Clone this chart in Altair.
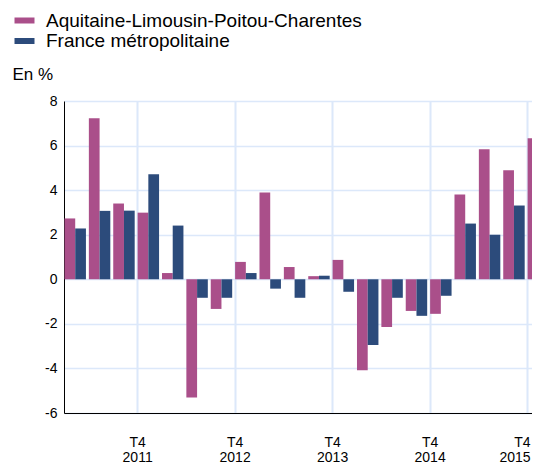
import altair as alt
import pandas as pd

series_names = ["Aquitaine-Limousin-Poitou-Charentes", "France métropolitaine"]
quarter_index = list(range(20))  # T1 2011 ... T4 2015
aquitaine = [2.73, 7.23, 3.40, 2.99, 0.28, -5.30, -1.33, 0.78, 3.89, 0.55,
             0.14, 0.87, -4.08, -2.14, -1.42, -1.55, 3.80, 5.83, 4.89, 6.33]
france = [2.28, 3.07, 3.08, 4.71, 2.41, -0.83, -0.83, 0.28, -0.42, -0.83,
          0.16, -0.56, -2.95, -0.83, -1.64, -0.74, 2.50, 2.00, 3.31, -1.33]
tick_quarters = [3, 7, 11, 15, 19]
tick_labels = ["T4 2011", "T4 2012", "T4 2013", "T4 2014", "T4 2015"]
y_ticks = [-6, -4, -2, 0, 2, 4, 6, 8]

colors = ["#AA4F8A", "#2C4B7B"]
grid_color = "#DCE8FA"
font = "Liberation Sans"

rows = []
for k, (name, vals) in enumerate(zip(series_names, [aquitaine, france])):
    for i, v in zip(quarter_index, vals):
        rows.append({"idx": i, "k": k, "series": name, "value": v})
df = pd.DataFrame(rows)

label_expr = "split([{}][indexof([{}], datum.value)], ' ')".format(
    ",".join("'" + t + "'" for t in tick_labels),
    ",".join(str(t) for t in tick_quarters),
)
last_tick_test = "datum.value == {}".format(tick_quarters[-1])

bars = alt.Chart(df).transform_calculate(
    x0="datum.idx + 0.02 + datum.k * 0.44",
    x1="datum.idx + 0.02 + datum.k * 0.44 + 0.44",
).mark_bar(clip=True).encode(
    x=alt.X(
        "x0:Q",
        scale=alt.Scale(domain=[0, 19.2], nice=False, zero=False),
        axis=alt.Axis(
            values=tick_quarters,
            grid=True, gridColor=grid_color, gridWidth=2,
            domain=True, domainColor="black", domainWidth=1,
            ticks=False, labelExpr=label_expr,
            labelFont=font, labelFontSize=14, labelColor="black",
            labelPadding=22, labelLineHeight=15, labelBaseline="top",
            labelAlign={"condition": {"test": last_tick_test, "value": "right"}, "value": "center"},
            labelOffset={"condition": {"test": last_tick_test, "value": 3}, "value": 0},
            labelFlush=False, labelOverlap=False, labelBound=False,
            title=None,
        ),
    ),
    x2="x1:Q",
    y=alt.Y(
        "value:Q",
        scale=alt.Scale(domain=[-6, 8], nice=False),
        axis=alt.Axis(
            values=y_ticks,
            grid=True, gridColor=grid_color, gridWidth=1.5,
            domain=True, domainColor="black", domainWidth=1,
            ticks=False, labelExpr="'' + datum.value",
            labelFont=font, labelFontSize=14, labelColor="black",
            labelPadding=7,
            title="En %", titleAngle=0, titleAlign="left", titleBaseline="middle",
            titleX=-52, titleY=-27, titleFont=font, titleFontSize=17,
            titleFontWeight="normal", titleColor="black",
        ),
    ),
    y2=alt.datum(0),
    color=alt.Color(
        "series:N",
        scale=alt.Scale(domain=series_names, range=colors),
        legend=alt.Legend(
            orient="none", legendX=-49, legendY=-90, direction="vertical",
            title=None, symbolType="M-2,-0.6L2,-0.6L2,0.6L-2,0.6Z",
            symbolSize=100, symbolStrokeWidth=0, labelFont=font,
            labelFontSize=19, labelColor="black", labelOffset=12,
            labelLimit=0, rowPadding=0.5, padding=0,
        ),
    ),
)

chart = bars.properties(
    width=468, height=312,
    autosize=alt.AutoSizeParams(type="none"),
    padding={"left": 56, "top": 93, "right": 0, "bottom": 55},
    background="white",
).configure_view(stroke=None)

chart.save("out.html", embed_options={"renderer": "svg", "actions": False})
